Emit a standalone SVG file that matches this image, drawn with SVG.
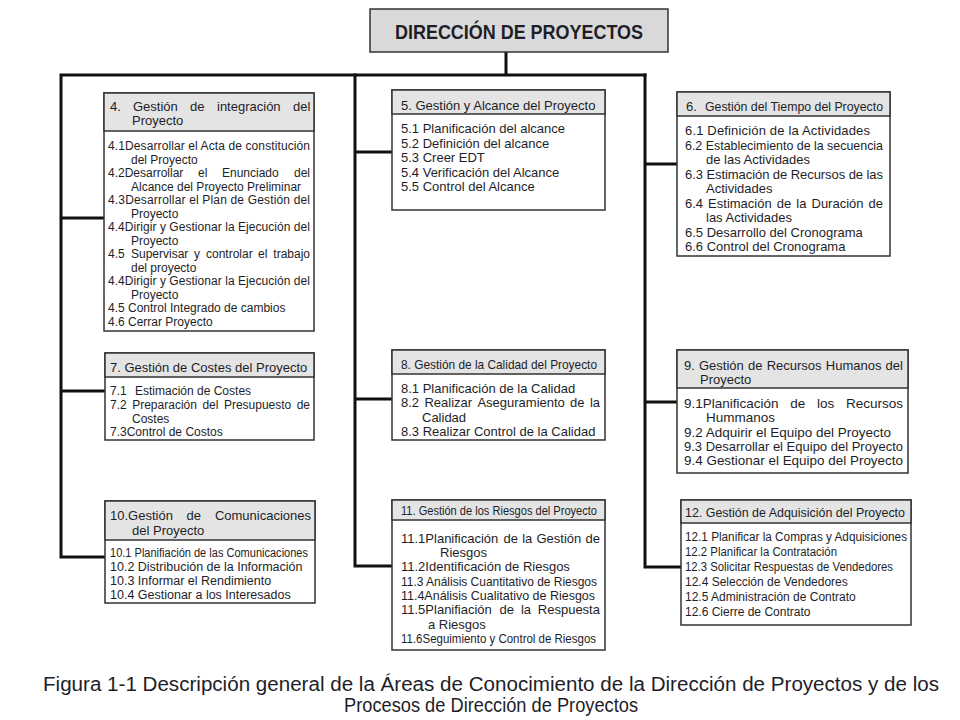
<svg xmlns="http://www.w3.org/2000/svg" width="960" height="720" viewBox="0 0 960 720">
<style>
.bg{fill:#ffffff}
.box{fill:#ffffff;stroke:#333333;stroke-width:1.5}
.hdr{fill:#e4e4e4;stroke:#333333;stroke-width:1.5}
.ttl{fill:#d9d9d9;stroke:#333333;stroke-width:1.5}
.conn{stroke:#111111;stroke-width:3;fill:none;stroke-linecap:square}
text{font-family:"Liberation Sans",Arial,sans-serif;fill:#1e1e28}
.h{font-size:13px}
.b12{font-size:12px}
.b125{font-size:12.5px}
.b13{font-size:13px}
.b135{font-size:13.5px}
.title{font-size:20px;font-weight:bold}
.cap{font-size:20px}
</style>
<rect class="bg" x="0" y="0" width="960" height="720"/>

<g id="connectors">
<path class="conn" d="M506,52 V75 M61,75 H645 M61,75 V557 M61,218 H104 M61,391 H105 M61,557 H105"/>
<path class="conn" d="M355,75 V566 M355,152 H392 M355,399 H392 M355,566 H392"/>
<path class="conn" d="M645,75 V567 M645,164 H677 M645,402 H677 M645,567 H681"/>
</g>

<g id="title">
<rect class="ttl" x="370" y="9" width="298" height="43"/>
<text class="title" x="519" y="39" text-anchor="middle" textLength="248" lengthAdjust="spacingAndGlyphs">DIRECCIÓN DE PROYECTOS</text>
</g>

<g id="node4">
<rect class="box" x="104" y="93" width="210" height="238"/>
<rect class="hdr" x="104" y="93" width="210" height="38"/>
<text class="h" y="111"><tspan x="110">4.</tspan><tspan x="133">Gestión</tspan><tspan x="190">de</tspan><tspan x="217">integración</tspan><tspan x="293">del</tspan></text>
<text class="h" x="132" y="125">Proyecto</text>
<text class="b12" x="108" y="150" textLength="202" lengthAdjust="spacing">4.1Desarrollar el Acta de constitución</text>
<text class="b12" x="131" y="163.5">del Proyecto</text>
<text class="b12" y="177"><tspan x="108">4.2Desarrollar</tspan><tspan x="198">el</tspan><tspan x="222">Enunciado</tspan><tspan x="294">del</tspan></text>
<text class="b12" x="131" y="190.5">Alcance del Proyecto Preliminar</text>
<text class="b12" x="108" y="204" textLength="202" lengthAdjust="spacing">4.3Desarrollar el Plan de Gestión del</text>
<text class="b12" x="131" y="217.5">Proyecto</text>
<text class="b12" x="108" y="231" textLength="202" lengthAdjust="spacing">4.4Dirigir y Gestionar la Ejecución del</text>
<text class="b12" x="131" y="244.5">Proyecto</text>
<text class="b12" y="258"><tspan x="108">4.5</tspan><tspan x="131">Supervisar</tspan><tspan x="194">y</tspan><tspan x="206">controlar</tspan><tspan x="258">el</tspan><tspan x="273.3">trabajo</tspan></text>
<text class="b12" x="131" y="271.5">del proyecto</text>
<text class="b12" x="108" y="285" textLength="202" lengthAdjust="spacing">4.4Dirigir y Gestionar la Ejecución del</text>
<text class="b12" x="131" y="298.5">Proyecto</text>
<text class="b12" x="108" y="312">4.5 Control Integrado de cambios</text>
<text class="b12" x="108" y="325.5">4.6 Cerrar Proyecto</text>
</g>

<g id="node5">
<rect class="box" x="392" y="90" width="213" height="120"/>
<rect class="hdr" x="392" y="90" width="213" height="24"/>
<text class="h" x="401" y="109.5">5. Gestión y Alcance del Proyecto</text>
<text class="b13" x="401" y="133">5.1 Planificación del alcance</text>
<text class="b13" x="401" y="147.5">5.2 Definición del alcance</text>
<text class="b13" x="401" y="162">5.3 Creer EDT</text>
<text class="b13" x="401" y="176.5">5.4 Verificación del Alcance</text>
<text class="b13" x="401" y="191">5.5 Control del Alcance</text>
</g>

<g id="node6">
<rect class="box" x="677" y="92" width="213" height="164"/>
<rect class="hdr" x="677" y="92" width="213" height="24"/>
<text class="h" y="111"><tspan x="686">6.</tspan><tspan x="705" textLength="178" lengthAdjust="spacingAndGlyphs">Gestión del Tiempo del Proyecto</tspan></text>
<text class="b13" x="685" y="135" textLength="185" lengthAdjust="spacing">6.1 Definición de la Actividades</text>
<text class="b13" x="685" y="149.5" textLength="198" lengthAdjust="spacingAndGlyphs">6.2 Establecimiento de la secuencia</text>
<text class="b13" x="706" y="164">de las Actividades</text>
<text class="b13" x="685" y="178.5" textLength="198" lengthAdjust="spacing">6.3 Estimación de Recursos de las</text>
<text class="b13" x="706" y="193">Actividades</text>
<text class="b13" y="207.5"><tspan x="685">6.4</tspan><tspan x="708.1">Estimación</tspan><tspan x="776.8">de</tspan><tspan x="796.3">la</tspan><tspan x="811.5">Duración</tspan><tspan x="868.5">de</tspan></text>
<text class="b13" x="706" y="222">las Actividades</text>
<text class="b13" x="685" y="236.5">6.5 Desarrollo del Cronograma</text>
<text class="b13" x="685" y="251">6.6 Control del Cronograma</text>
</g>

<g id="node7">
<rect class="box" x="105" y="353" width="209" height="87"/>
<rect class="hdr" x="105" y="353" width="209" height="24"/>
<text class="h" x="110" y="371.5">7. Gestión de Costes del Proyecto</text>
<text class="b12" y="395"><tspan x="110">7.1</tspan><tspan x="135">Estimación de Costes</tspan></text>
<text class="b12" y="409"><tspan x="110">7.2</tspan><tspan x="132.2">Preparación</tspan><tspan x="202.4">del</tspan><tspan x="223.9">Presupuesto</tspan><tspan x="296.7">de</tspan></text>
<text class="b12" x="132" y="422.5">Costes</text>
<text class="b12" x="110" y="435.5">7.3Control de Costos</text>
</g>

<g id="node8">
<rect class="box" x="392" y="350" width="213" height="90"/>
<rect class="hdr" x="392" y="350" width="213" height="24"/>
<text class="h" x="401" y="368.5" textLength="196" lengthAdjust="spacingAndGlyphs">8. Gestión de la Calidad del Proyecto</text>
<text class="b13" x="401" y="392.5">8.1 Planificación de la Calidad</text>
<text class="b13" y="407"><tspan x="401">8.2</tspan><tspan x="424.4">Realizar</tspan><tspan x="477.4">Aseguramiento</tspan><tspan x="570.1">de</tspan><tspan x="589.9">la</tspan></text>
<text class="b13" x="422" y="421.5">Calidad</text>
<text class="b13" x="401" y="435.5">8.3 Realizar Control de la Calidad</text>
</g>

<g id="node9">
<rect class="box" x="677" y="350" width="231" height="123"/>
<rect class="hdr" x="677" y="350" width="231" height="38"/>
<text class="h" y="370"><tspan x="684">9.</tspan><tspan x="699">Gestión</tspan><tspan x="748">de</tspan><tspan x="766.7">Recursos</tspan><tspan x="825.8">Humanos</tspan><tspan x="885.6">del</tspan></text>
<text class="h" x="700" y="383.5">Proyecto</text>
<text class="b135" y="407.5"><tspan x="684">9.1Planificación</tspan><tspan x="790.2">de</tspan><tspan x="816.9">los</tspan><tspan x="845.9">Recursos</tspan></text>
<text class="b135" x="706" y="422">Hummanos</text>
<text class="b135" x="684" y="436.5">9.2 Adquirir el Equipo del Proyecto</text>
<text class="b135" x="684" y="450.5" textLength="219" lengthAdjust="spacingAndGlyphs">9.3 Desarrollar el Equipo del Proyecto</text>
<text class="b135" x="684" y="464.5" textLength="219" lengthAdjust="spacingAndGlyphs">9.4 Gestionar el Equipo del Proyecto</text>
</g>

<g id="node10">
<rect class="box" x="105" y="501" width="210" height="102"/>
<rect class="hdr" x="105" y="501" width="210" height="39"/>
<text class="h" y="520"><tspan x="110">10.Gestión</tspan><tspan x="186.6">de</tspan><tspan x="214.9">Comunicaciones</tspan></text>
<text class="h" x="132" y="534.5">del Proyecto</text>
<text class="b125" x="110" y="557" textLength="198" lengthAdjust="spacingAndGlyphs">10.1 Planifiación de las Comunicaciones</text>
<text class="b125" x="110" y="571">10.2 Distribución de la Información</text>
<text class="b125" x="110" y="585">10.3 Informar el Rendimiento</text>
<text class="b125" x="110" y="598.5">10.4 Gestionar a los Interesados</text>
</g>

<g id="node11">
<rect class="box" x="392" y="500" width="213" height="150"/>
<rect class="hdr" x="392" y="500" width="213" height="20"/>
<text class="b12" x="401" y="515" textLength="196" lengthAdjust="spacingAndGlyphs">11. Gestión de los Riesgos del Proyecto</text>
<text class="b13" y="542.5"><tspan x="401">11.1Planificación</tspan><tspan x="503.5">de</tspan><tspan x="522.2">la</tspan><tspan x="536.5">Gestión</tspan><tspan x="585.5">de</tspan></text>
<text class="b13" x="440" y="556.5">Riesgos</text>
<text class="b13" x="401" y="571">11.2Identificación de Riesgos</text>
<text class="b13" x="401" y="585.5" textLength="196" lengthAdjust="spacingAndGlyphs">11.3 Análisis Cuantitativo de Riesgos</text>
<text class="b13" x="401" y="600" textLength="194" lengthAdjust="spacingAndGlyphs">11.4Análisis Cualitativo de Riesgos</text>
<text class="b13" y="614"><tspan x="401">11.5Planifiación</tspan><tspan x="499.6">de</tspan><tspan x="520.9">la</tspan><tspan x="537.8">Respuesta</tspan></text>
<text class="b13" x="428" y="628.5">a Riesgos</text>
<text class="b13" x="401" y="642.5" textLength="195" lengthAdjust="spacingAndGlyphs">11.6Seguimiento y Control de Riesgos</text>
</g>

<g id="node12">
<rect class="box" x="681" y="500" width="230" height="125"/>
<rect class="hdr" x="681" y="500" width="230" height="23"/>
<text class="h" x="685" y="517" textLength="220" lengthAdjust="spacingAndGlyphs">12. Gestión de Adquisición del Proyecto</text>
<text class="b12" x="685" y="541" textLength="222" lengthAdjust="spacingAndGlyphs">12.1 Planificar la Compras y Adquisiciones</text>
<text class="b12" x="685" y="556" textLength="152" lengthAdjust="spacingAndGlyphs">12.2 Planificar la Contratación</text>
<text class="b12" x="685" y="571" textLength="208" lengthAdjust="spacingAndGlyphs">12.3 Solicitar Respuestas de Vendedores</text>
<text class="b12" x="685" y="586">12.4 Selección de Vendedores</text>
<text class="b12" x="685" y="601">12.5 Administración de Contrato</text>
<text class="b12" x="685" y="616">12.6 Cierre de Contrato</text>
</g>

<g id="caption">
<text class="cap" x="491" y="691" text-anchor="middle" textLength="896" lengthAdjust="spacingAndGlyphs">Figura 1-1 Descripción general de la Áreas de Conocimiento de la Dirección de Proyectos y de los</text>
<text class="cap" x="491" y="712" text-anchor="middle" textLength="294" lengthAdjust="spacingAndGlyphs">Procesos de Dirección de Proyectos</text>
</g>
</svg>
